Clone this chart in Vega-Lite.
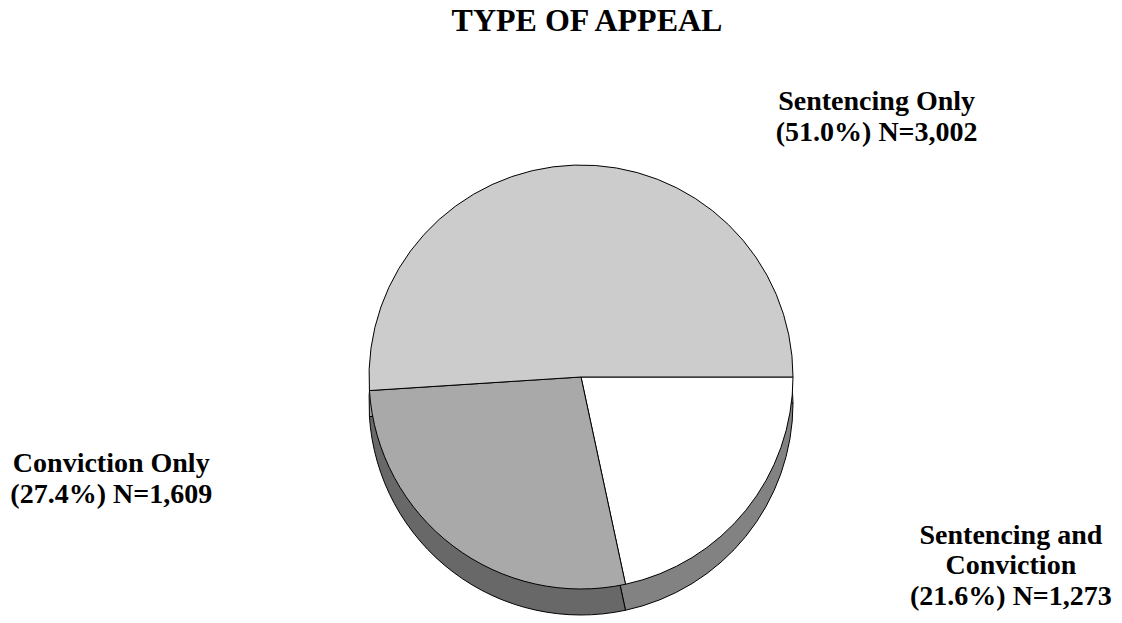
{
  "$schema": "https://vega.github.io/schema/vega-lite/v6.json",
  "width": 1122,
  "height": 571,
  "autosize": {"type": "pad"},
  "padding": {"top": 5, "left": 0, "right": 0, "bottom": 0},
  "background": "white",
  "title": {"text": "TYPE OF APPEAL", "font": "Liberation Serif", "fontSize": 32, "fontWeight": "bold", "color": "black", "anchor": "middle", "dx": 26, "offset": 6},
  "config": {"view": {"stroke": null}},
  "data": {"values": [
    {"type": "Sentencing and Conviction", "n": 1273, "rank": 1, "label": "Sentencing and\nConviction\n(21.6%) N=1,273"},
    {"type": "Conviction Only", "n": 1609, "rank": 2, "label": "Conviction Only\n(27.4%) N=1,609"},
    {"type": "Sentencing Only", "n": 3002, "rank": 3, "label": "Sentencing Only\n(51.0%) N=3,002"}
  ]},
  "layer": [
    {
      "mark": {"type": "arc", "radius": 212, "x": {"expr": "width/2+20"}, "y": {"expr": "height/2+73.5"}, "stroke": "black", "strokeWidth": 1},
      "encoding": {
        "theta": {"field": "n", "type": "quantitative", "stack": true, "scale": {"range": [1.5707963, 7.8539816]}},
        "order": {"field": "rank", "type": "quantitative"},
        "color": {"field": "type", "type": "nominal", "legend": null, "scale": {"domain": ["Sentencing and Conviction", "Conviction Only", "Sentencing Only"], "range": ["#828282", "#686868", "#a3a3a3"]}}
      }
    },
    {
      "mark": {"type": "arc", "radius": 212, "x": {"expr": "width/2+20"}, "y": {"expr": "height/2+47.5"}, "stroke": "black", "strokeWidth": 1},
      "encoding": {
        "theta": {"field": "n", "type": "quantitative", "stack": true, "scale": {"range": [1.5707963, 7.8539816]}},
        "order": {"field": "rank", "type": "quantitative"},
        "color": {"field": "type", "type": "nominal", "legend": null, "scale": {"domain": ["Sentencing and Conviction", "Conviction Only", "Sentencing Only"], "range": ["#ffffff", "#a9a9a9", "#cccccc"]}}
      }
    },
    {
      "mark": {"type": "text", "radius": 230, "x": {"expr": "width/2+20"}, "y": {"expr": "height/2+47.5"},
        "dx": {"expr": "datum.type === 'Sentencing Only' ? 303 : datum.type === 'Conviction Only' ? -331 : 251"},
        "dy": {"expr": "datum.type === 'Sentencing Only' ? -37 : datum.type === 'Conviction Only' ? -88 : 22"},
        "font": "Liberation Serif", "fontSize": 28, "fontWeight": "bold", "lineBreak": "\n", "lineHeight": 30.5, "align": "center", "baseline": "alphabetic", "color": "black"},
      "encoding": {
        "theta": {"field": "n", "type": "quantitative", "stack": true, "scale": {"range": [1.5707963, 7.8539816]}},
        "order": {"field": "rank", "type": "quantitative"},
        "text": {"field": "label"}
      }
    }
  ],
  "resolve": {"scale": {"color": "independent"}}
}
